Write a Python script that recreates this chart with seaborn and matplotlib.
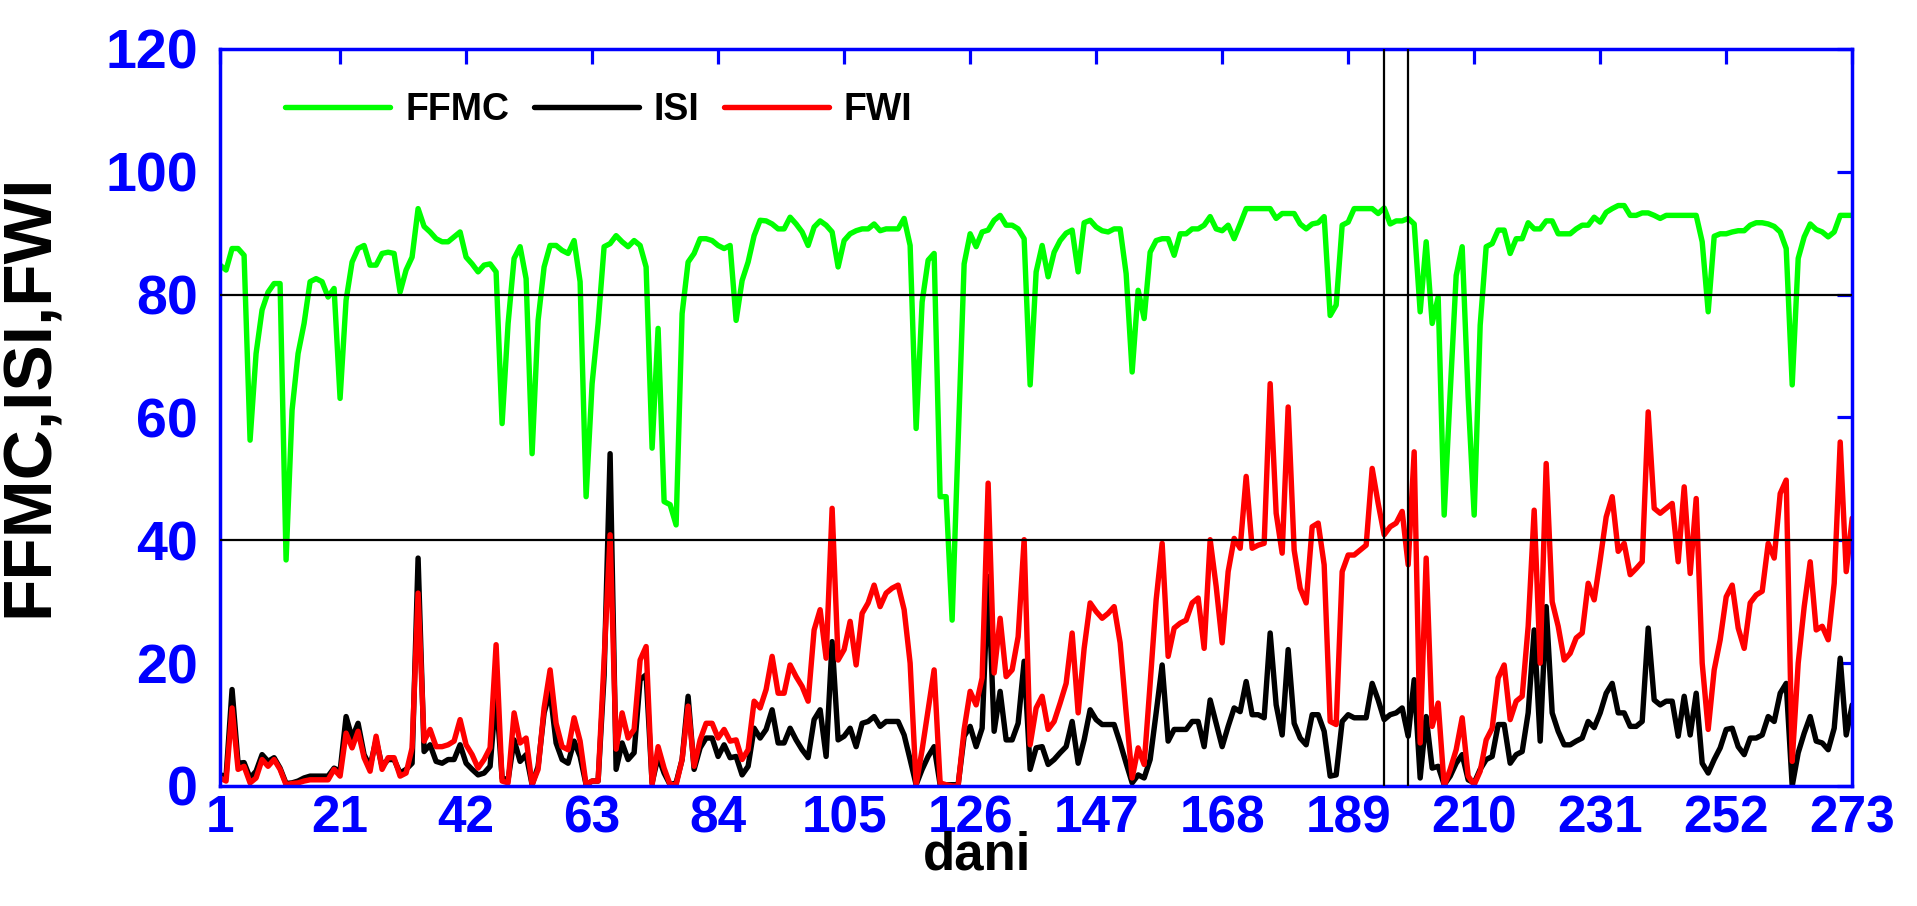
import numpy as np
import pandas as pd
import seaborn as sns
import matplotlib.pyplot as plt

# dnevne vrijednosti indeksa, ocitane s grafa (dan 1..273)
ffmc = [84.8, 84.0, 87.5, 87.5, 86.4, 56.3, 70.4, 77.5, 80.4, 81.8,
        81.8, 36.8, 61.2, 70.4, 75.3, 82.1, 82.6, 82.1, 79.6, 81.0,
        63.1, 79.1, 85.3, 87.5, 88.0, 84.8, 84.8, 86.7, 86.9, 86.7,
        80.4, 84.0, 86.1, 94.0, 91.1, 90.2, 89.1, 88.6, 88.6, 89.4,
        90.2, 86.1, 85.0, 83.7, 84.8, 85.0, 83.7, 59.0, 75.3, 85.9,
        87.8, 82.6, 54.1, 75.8, 84.5, 88.0, 88.0, 87.2, 86.7, 88.8,
        82.1, 47.1, 65.5, 75.3, 87.8, 88.3, 89.6, 88.6, 87.8, 88.8,
        88.0, 84.5, 55.0, 74.5, 46.3, 45.8, 42.5, 76.9, 85.3, 86.7,
        89.1, 89.1, 88.8, 88.0, 87.5, 88.0, 75.8, 82.3, 85.3, 89.6,
        92.1, 92.0, 91.5, 90.7, 90.7, 92.6, 91.5, 90.2, 88.0, 91.0,
        92.0, 91.3, 90.2, 84.5, 88.8, 89.9, 90.4, 90.7, 90.7, 91.5,
        90.4, 90.7, 90.7, 90.7, 92.4, 88.0, 58.2, 78.8, 85.6, 86.7,
        47.1, 47.1, 27.0, 56.0, 85.0, 89.9, 87.8, 90.2, 90.5, 92.1,
        92.9, 91.3, 91.3, 90.7, 89.1, 65.3, 83.7, 88.0, 82.9, 86.9,
        88.8, 90.0, 90.5, 83.7, 91.7, 92.1, 91.0, 90.4, 90.2, 90.7,
        90.7, 83.4, 67.4, 80.7, 76.1, 86.9, 88.8, 89.1, 89.1, 86.4,
        89.9, 89.9, 90.7, 90.7, 91.3, 92.7, 90.7, 90.4, 91.3, 89.1,
        91.5, 94.0, 94.0, 94.0, 94.0, 94.0, 92.4, 93.2, 93.2, 93.2,
        91.5, 90.7, 91.5, 91.7, 92.7, 76.6, 78.3, 91.3, 91.8, 94.0,
        94.0, 94.0, 94.0, 93.2, 94.1, 91.5, 92.0, 92.0, 92.4, 91.5,
        77.2, 88.6, 75.3, 79.6, 44.1, 64.0, 83.1, 87.8, 63.3, 44.1,
        75.0, 87.8, 88.3, 90.5, 90.5, 86.7, 89.1, 89.1, 91.7, 90.7,
        90.7, 92.0, 92.0, 89.9, 89.9, 89.9, 90.7, 91.3, 91.3, 92.6,
        91.8, 93.4, 94.0, 94.5, 94.5, 92.9, 92.9, 93.3, 93.3, 92.9,
        92.4, 92.9, 92.9, 92.9, 92.9, 92.9, 92.9, 88.6, 77.2, 89.5,
        89.9, 89.9, 90.2, 90.4, 90.4, 91.3, 91.7, 91.7, 91.5, 91.1,
        90.2, 87.5, 65.3, 85.9, 89.4, 91.5, 90.6, 90.2, 89.4, 90.2,
        92.9, 92.9, 92.9]

isi = [1.8, 1.6, 15.7, 3.7, 3.8, 1.3, 2.4, 5.1, 4.0, 4.6,
       2.9, 0.4, 0.5, 0.8, 1.3, 1.6, 1.6, 1.6, 1.6, 2.9,
       2.4, 11.3, 7.8, 10.2, 5.1, 3.2, 7.5, 3.2, 4.3, 4.3,
       2.1, 2.7, 3.7, 37.1, 5.6, 6.7, 4.0, 3.7, 4.3, 4.3,
       6.7, 3.7, 2.7, 1.8, 2.1, 3.2, 15.0, 1.3, 1.0, 7.5,
       4.0, 5.1, 0.2, 3.2, 11.9, 15.4, 7.0, 4.3, 3.7, 7.3,
       4.8, 0.2, 0.8, 0.8, 18.0, 54.1, 2.7, 7.0, 4.3, 5.4,
       17.3, 18.1, 0.5, 4.8, 2.1, 0.2, 0.5, 4.3, 14.6, 2.7,
       6.2, 7.8, 7.8, 4.8, 6.7, 4.6, 4.8, 1.8, 3.2, 9.4,
       7.8, 9.2, 12.4, 7.0, 7.0, 9.4, 7.5, 5.9, 4.6, 10.8,
       12.4, 4.8, 23.5, 7.5, 8.1, 9.4, 6.4, 10.2, 10.5, 11.3,
       9.7, 10.5, 10.5, 10.5, 8.3, 4.3, 0.2, 2.7, 4.8, 6.4,
       0.2, 0.2, 0.2, 0.2, 8.1, 9.7, 6.4, 9.4, 34.1, 8.9,
       15.4, 7.5, 7.5, 10.2, 20.3, 2.7, 6.2, 6.4, 3.5, 4.3,
       5.4, 6.4, 10.5, 3.7, 7.5, 12.4, 10.8, 10.0, 10.0, 10.0,
       7.0, 3.7, 0.5, 1.8, 1.3, 4.3, 11.9, 19.7, 7.3, 9.2,
       9.2, 9.2, 10.5, 10.5, 6.4, 14.0, 10.2, 6.4, 9.7, 12.7,
       12.1, 17.0, 11.6, 11.6, 11.1, 24.9, 13.2, 8.3, 22.2, 10.2,
       7.8, 6.7, 11.6, 11.6, 8.9, 1.6, 1.8, 10.5, 11.6, 11.1,
       11.1, 11.1, 16.7, 14.0, 10.8, 11.6, 11.9, 12.7, 8.1, 17.3,
       1.3, 11.3, 2.9, 3.2, 0.2, 1.6, 3.7, 5.1, 1.0, 0.5,
       2.7, 4.3, 4.8, 10.0, 10.0, 3.7, 5.1, 5.6, 11.9, 25.4,
       7.3, 29.2, 11.9, 8.9, 6.7, 6.7, 7.3, 7.8, 10.5, 9.5,
       11.9, 15.1, 16.7, 11.9, 11.9, 9.7, 9.7, 10.5, 25.7, 14.0,
       13.2, 13.8, 13.8, 8.1, 14.6, 8.3, 15.1, 3.7, 2.1, 4.3,
       6.2, 9.2, 9.4, 6.4, 5.1, 7.8, 7.8, 8.3, 11.3, 10.5,
       15.1, 16.7, 0.0, 5.4, 8.6, 11.3, 7.3, 7.0, 5.9, 9.4,
       20.8, 8.3, 13.2]

fwi = [1.3, 0.8, 12.7, 2.7, 3.2, 0.5, 1.3, 4.3, 3.2, 4.3,
       2.7, 0.2, 0.4, 0.5, 0.8, 1.0, 1.0, 1.0, 1.0, 2.7,
       1.6, 8.6, 6.2, 8.9, 4.6, 2.4, 8.1, 2.7, 4.6, 4.6,
       1.6, 2.1, 6.2, 31.4, 7.3, 9.2, 6.4, 6.4, 6.7, 7.3,
       10.8, 6.7, 5.1, 2.9, 4.3, 6.2, 23.0, 0.8, 0.5, 11.9,
       7.0, 7.8, 0.2, 2.7, 12.7, 18.9, 10.2, 6.4, 5.9, 11.1,
       7.3, 0.2, 0.8, 0.8, 20.5, 40.9, 6.0, 11.9, 7.8, 9.2,
       20.5, 22.7, 0.2, 6.4, 2.9, 0.2, 0.2, 4.3, 13.0, 3.2,
       7.5, 10.2, 10.2, 7.8, 9.2, 7.3, 7.5, 4.3, 5.9, 13.8,
       12.7, 15.7, 21.1, 15.1, 15.1, 19.7, 17.8, 16.2, 13.8, 25.4,
       28.7, 20.8, 45.2, 20.5, 22.2, 26.8, 19.7, 28.1, 29.8, 32.7,
       29.2, 31.4, 32.2, 32.7, 28.7, 20.0, 0.2, 5.9, 12.4, 18.9,
       0.5, 0.2, 0.0, 0.0, 9.2, 15.4, 13.2, 17.6, 49.3, 18.4,
       27.3, 17.8, 18.9, 24.3, 40.1, 6.7, 12.7, 14.6, 9.2, 10.5,
       13.5, 16.7, 24.9, 11.9, 22.4, 29.8, 28.4, 27.3, 28.1, 29.2,
       23.3, 11.9, 1.3, 6.2, 3.5, 16.7, 30.3, 39.5, 21.1, 25.7,
       26.5, 27.0, 29.8, 30.6, 22.4, 40.1, 32.5, 23.3, 34.9, 40.3,
       38.7, 50.4, 38.7, 39.2, 39.5, 65.5, 44.4, 37.9, 61.7, 38.4,
       32.2, 29.8, 42.2, 42.8, 36.0, 10.5, 10.0, 34.9, 37.6, 37.6,
       38.4, 39.2, 51.7, 46.0, 40.9, 42.2, 42.8, 44.7, 36.0, 54.4,
       7.0, 37.1, 9.7, 13.5, 0.0, 2.7, 5.9, 11.1, 1.6, 0.2,
       2.4, 7.5, 9.4, 17.6, 19.7, 10.8, 13.8, 14.6, 26.0, 44.9,
       20.0, 52.5, 30.0, 26.0, 20.5, 21.6, 24.1, 24.9, 33.0, 30.3,
       36.8, 43.8, 47.1, 38.2, 39.5, 34.4, 35.4, 36.5, 60.9, 45.2,
       44.4, 45.2, 46.0, 36.5, 48.7, 34.6, 46.8, 20.0, 9.2, 18.9,
       23.8, 30.8, 32.7, 25.7, 22.4, 29.8, 31.1, 31.7, 39.5, 37.1,
       47.6, 49.8, 4.0, 20.0, 29.2, 36.5, 25.4, 26.0, 23.8, 33.0,
       56.0, 34.9, 43.6]

indeksi = ['FFMC', 'ISI', 'FWI']
x_ticks = [1, 21, 42, 63, 84, 105, 126, 147, 168, 189, 210, 231, 252, 273]
y_ticks = [0, 20, 40, 60, 80, 100, 120]
h_linije = [80, 40]
v_linije = [195, 199]

dani = np.arange(1, len(ffmc) + 1)
df = pd.DataFrame({
    'dani': np.tile(dani, 3),
    'vrijednost': ffmc + isi + fwi,
    'indeks': np.repeat(indeksi, len(dani)),
})

sns.set_style('white')
plt.rcParams['font.family'] = ['Liberation Sans', 'DejaVu Sans']
plt.rcParams['font.weight'] = 'bold'
plt.rcParams['text.color'] = 'black'

boje = {'FFMC': '#00ff00', 'ISI': 'black', 'FWI': '#ff0000'}

fig = plt.figure(figsize=(19.17, 9.06), dpi=100)
ax = fig.add_axes([0.1148, 0.1325, 0.8514, 0.8135])

sns.lineplot(data=df, x='dani', y='vrijednost', hue='indeks', hue_order=indeksi,
             palette=boje, linewidth=3.9, estimator=None, sort=False, ax=ax)

for y in h_linije:
    ax.axhline(y, color='black', lw=1.6, zorder=5)
for x in v_linije:
    ax.axvline(x, color='black', lw=1.6, zorder=5)

ax.set_xlim(1, 273)
ax.set_ylim(0, 120)
ax.set_xticks(x_ticks)
ax.set_yticks(y_ticks)

ax.tick_params(direction='in', length=11, width=2.3, color='blue',
               labelcolor='blue', top=True, right=True)
ax.tick_params(axis='x', pad=6, labelsize=37)
ax.tick_params(axis='y', pad=16, labelsize=40)
for s in ax.spines.values():
    s.set_color('blue')
    s.set_linewidth(2.5)

ax.set_xlabel('dani', fontsize=38, fontweight='bold', color='black')
ax.set_ylabel('FFMC,ISI,FWI', fontsize=50, fontweight='bold', color='black')
ax.xaxis.set_label_coords(0.464, -0.060)
ax.yaxis.set_label_coords(-0.097, 0.53)

handles, labels = ax.get_legend_handles_labels()
ax.legend(handles, labels, loc='center left', bbox_to_anchor=(0.04, 0.917),
          ncol=3, frameon=False, fontsize=27, handlelength=2.8,
          handletextpad=0.4, columnspacing=0.65, borderpad=0, borderaxespad=0,
          labelcolor='black')

fig.savefig('out.png', dpi=100)
